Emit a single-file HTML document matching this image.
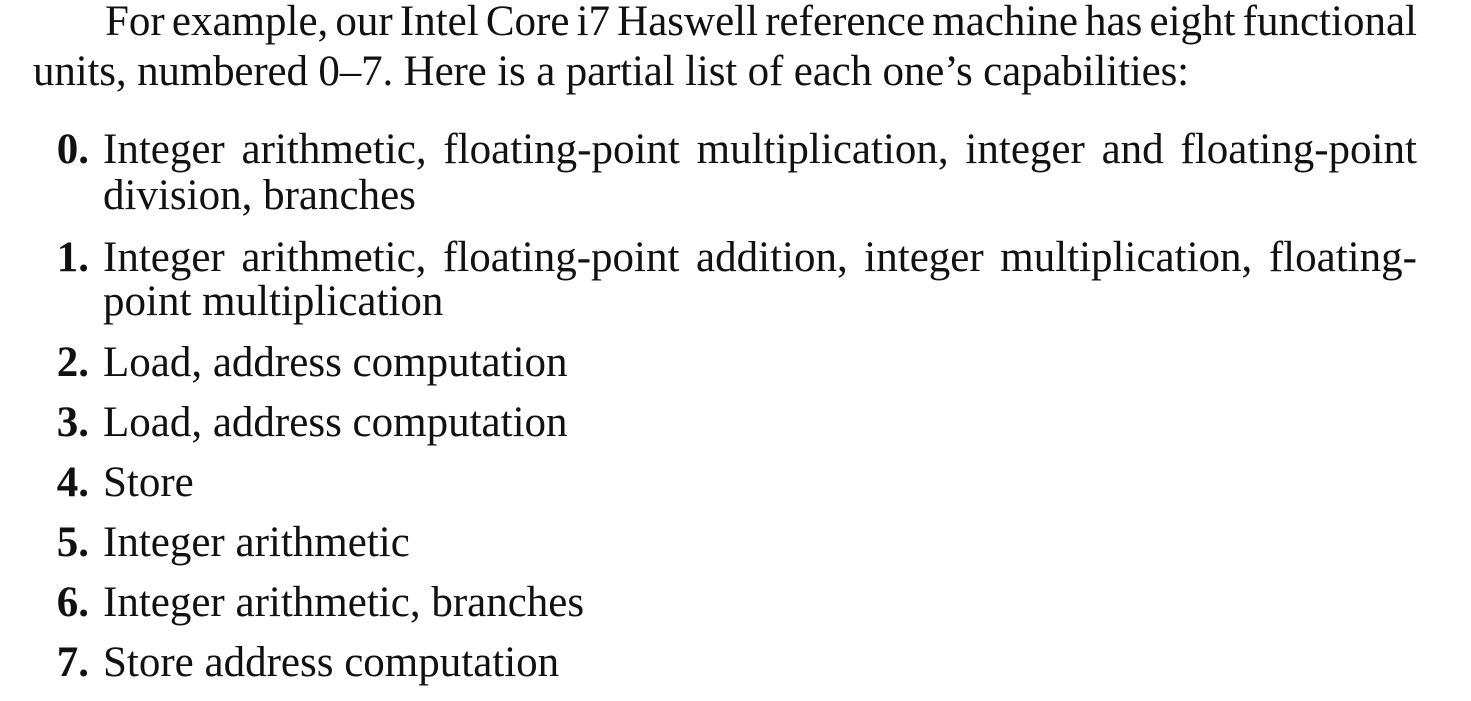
<!DOCTYPE html>
<html><head><meta charset="utf-8"><style>
body{margin:0;width:1471px;height:701px;background:#fff;overflow:hidden;position:relative;font-family:"Liberation Serif",serif;font-size:43px;color:#111}
.l{position:absolute;white-space:nowrap;line-height:50px;height:50px}
.j{display:flex;justify-content:space-between}
.n{position:absolute;font-weight:bold;line-height:50px;width:60px;text-align:right;left:29px}
</style></head><body>
<div class="l j" style="left:105px;width:1312px;top:-3px"><span>For</span><span>example,</span><span>our</span><span>Intel</span><span>Core</span><span>i7</span><span>Haswell</span><span>reference</span><span>machine</span><span>has</span><span>eight</span><span>functional</span></div>
<div class="l" style="left:33px;top:47px;letter-spacing:-0.15px">units, numbered 0–7. Here is a partial list of each one’s capabilities:</div>

<div class="n" style="top:125px">0.</div>
<div class="l j" style="left:103px;width:1314px;top:125px"><span>Integer</span><span>arithmetic,</span><span>floating-point</span><span>multiplication,</span><span>integer</span><span>and</span><span>floating-point</span></div>
<div class="l" style="left:103px;top:171px">division, branches</div>

<div class="n" style="top:233px">1.</div>
<div class="l j" style="left:103px;width:1314px;top:233px"><span>Integer</span><span>arithmetic,</span><span>floating-point</span><span>addition,</span><span>integer</span><span>multiplication,</span><span>floating-</span></div>
<div class="l" style="left:103px;top:277px">point multiplication</div>

<div class="n" style="top:338px">2.</div>
<div class="l" style="left:103px;top:338px">Load, address computation</div>
<div class="n" style="top:398px">3.</div>
<div class="l" style="left:103px;top:398px">Load, address computation</div>
<div class="n" style="top:458px">4.</div>
<div class="l" style="left:103px;top:458px">Store</div>
<div class="n" style="top:518px">5.</div>
<div class="l" style="left:103px;top:518px">Integer arithmetic</div>
<div class="n" style="top:578px">6.</div>
<div class="l" style="left:103px;top:578px">Integer arithmetic, branches</div>
<div class="n" style="top:638px">7.</div>
<div class="l" style="left:103px;top:638px">Store address computation</div>
</body></html>
